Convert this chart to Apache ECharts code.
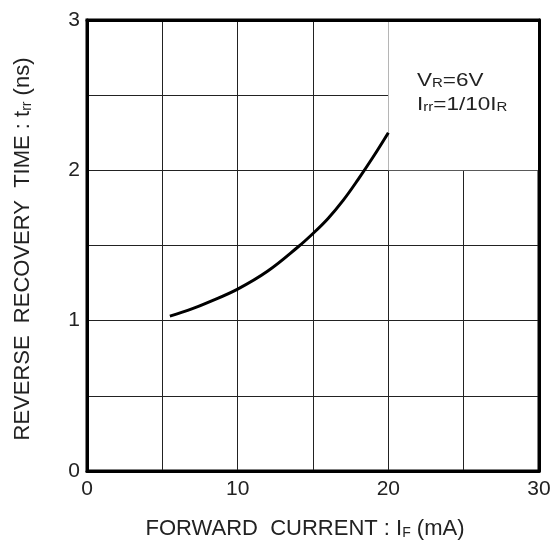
<!DOCTYPE html>
<html><head><meta charset="utf-8">
<script src="https://cdn.jsdelivr.net/npm/echarts@6/dist/echarts.min.js"></script>
<style>html,body{margin:0;padding:0;background:#fff}#c{width:559px;height:545px}</style>
</head><body><div id="c"></div>
<script>
const forwardCurrent = [5.5, 7, 8, 10, 12, 14, 15, 16, 17, 18, 19, 20];
const recoveryTime  = [1.03, 1.08, 1.12, 1.21, 1.33, 1.49, 1.58, 1.68, 1.80, 1.94, 2.09, 2.25];
const xTickLabels = [0, 10, 20, 30];
const yTickLabels = [0, 1, 2, 3];
const blankArea = [[20, 2], [30, 3]];

const font = 'Liberation Sans, Arial, sans-serif';
const chart = echarts.init(document.getElementById('c'));
const sub = {s: {fontSize: 14, fontFamily: font, color: '#222', verticalAlign: 'bottom'}};
const noteStyle = (text) => ({
  text, fontSize: 18, fill: '#222', fontFamily: font,
  rich: {s: {fontSize: 12, fontFamily: font, fill: '#222', verticalAlign: 'bottom'}}
});
chart.setOption({
  animation: false,
  grid: {left: 87, right: 20, top: 20, bottom: 72, show: true, borderColor: '#000', borderWidth: 3, backgroundColor: '#fff'},
  xAxis: [{
    type: 'value', min: 0, max: 30, interval: 5, position: 'bottom',
    axisLine: {show: true, lineStyle: {color: '#000', width: 3}},
    axisTick: {show: false},
    splitLine: {show: true, lineStyle: {color: '#222', width: 1}},
    axisLabel: {margin: 8, fontSize: 21, color: '#222', fontFamily: font,
      formatter: v => xTickLabels.includes(v) ? String(v) : ''},
    name: 'FORWARD  CURRENT : I{s|F} (mA)', nameLocation: 'middle', nameGap: 47,
    nameTextStyle: {fontSize: 22, color: '#222', fontFamily: font, rich: sub, padding: [0, 16, 0, 0]}
  }, {
    type: 'value', min: 0, max: 30, position: 'top', z: 10,
    axisLine: {show: true, onZero: false, lineStyle: {color: '#000', width: 3}},
    axisTick: {show: false}, axisLabel: {show: false}, splitLine: {show: false}
  }],
  yAxis: [{
    type: 'value', min: 0, max: 3, interval: 0.5, position: 'left',
    axisLine: {show: true, lineStyle: {color: '#000', width: 3}},
    axisTick: {show: false},
    splitLine: {show: true, lineStyle: {color: '#222', width: 1}},
    axisLabel: {margin: 7, fontSize: 21, color: '#222', fontFamily: font,
      formatter: v => yTickLabels.includes(v) ? String(v) : ''},
    name: 'REVERSE  RECOVERY  TIME : t{s|rr} (ns)', nameLocation: 'middle', nameGap: 53,
    nameTextStyle: {fontSize: 22, color: '#222', fontFamily: font, rich: sub, padding: [0, 7, 0, 0]}
  }, {
    type: 'value', min: 0, max: 3, position: 'right', z: 10,
    axisLine: {show: true, onZero: false, lineStyle: {color: '#000', width: 3}},
    axisTick: {show: false}, axisLabel: {show: false}, splitLine: {show: false}
  }],
  graphic: [
    {type: 'text', x: 417, y: 72, scaleX: 1.25, z: 20, style: noteStyle('V{s|R}=6V')},
    {type: 'text', x: 417, y: 96, scaleX: 1.25, z: 20, style: noteStyle('I{s|rr}=1/10I{s|R}')}
  ],
  series: [{
    type: 'line', xAxisIndex: 0, yAxisIndex: 0,
    data: forwardCurrent.map((x, i) => [x, recoveryTime[i]]),
    smooth: 0.4, showSymbol: false, symbol: 'none',
    lineStyle: {color: '#000', width: 3},
    markArea: {silent: true, itemStyle: {color: '#fff'}, data: [[{coord: blankArea[0]}, {coord: blankArea[1]}]]}
  }]
});
</script></body></html>
